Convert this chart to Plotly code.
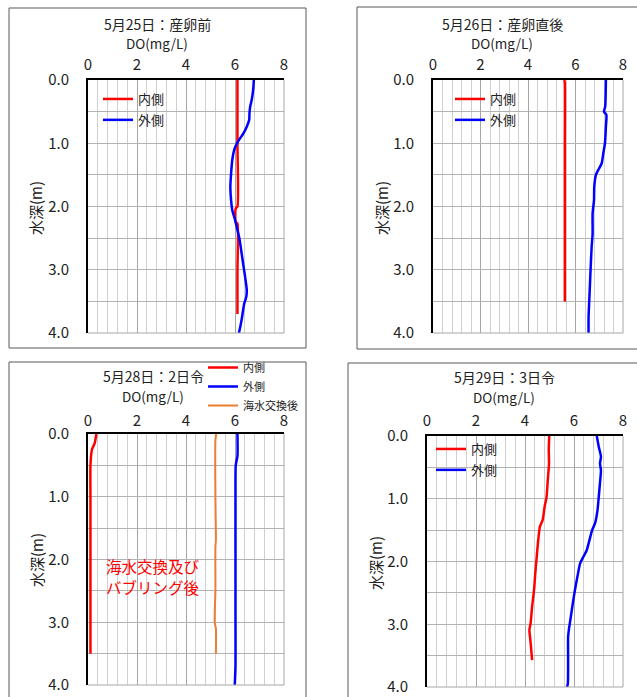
import plotly.graph_objects as go

W, H = 637, 697
FONT = "Noto Sans CJK JP"

# ---- data -----------------------------------------------------------------
# 5/25 (before spawning)
p1_in_depth = [0.0, 1.0, 2.0, 2.03, 2.25, 2.27, 3.0, 3.7]
p1_in_do = [6.1, 6.1, 6.1, 6.03, 6.03, 6.1, 6.1, 6.1]
p1_out_depth = [0.0, 0.16, 0.32, 0.42, 0.53, 0.63, 0.74, 0.84, 0.92, 1.0, 1.1, 1.26,
                1.48, 1.69, 1.9, 2.06, 2.21, 2.37, 2.53, 2.74, 2.95, 3.16, 3.32,
                3.43, 3.53, 3.64, 3.79, 3.95, 4.0]
p1_out_do = [6.77, 6.74, 6.68, 6.62, 6.59, 6.58, 6.48, 6.35, 6.21, 6.08, 5.97, 5.89,
             5.84, 5.81, 5.84, 5.89, 6.0, 6.1, 6.19, 6.27, 6.35, 6.43, 6.48,
             6.46, 6.38, 6.33, 6.27, 6.19, 6.16]

# 5/26 (right after spawning)
p2_in_depth = [0.0, 0.05, 1.0, 2.0, 3.0, 3.5]
p2_in_do = [5.53, 5.55, 5.55, 5.55, 5.55, 5.55]
p2_out_depth = [0.0, 0.42, 0.5, 0.55, 0.74, 1.0, 1.16, 1.32, 1.42, 1.5, 1.69, 1.9,
                2.11, 2.43, 2.64, 2.95, 3.22, 3.48, 3.75, 4.0]
p2_out_do = [7.28, 7.25, 7.2, 7.3, 7.28, 7.24, 7.17, 7.1, 6.96, 6.86, 6.79, 6.78,
             6.72, 6.72, 6.68, 6.64, 6.61, 6.58, 6.55, 6.55]

# 5/28 (2 days old)
p3_in_depth = [0.0, 0.15, 0.25, 0.5, 1.0, 2.0, 3.0, 3.5]
p3_in_do = [0.34, 0.27, 0.16, 0.1, 0.1, 0.1, 0.1, 0.1]
p3_out_depth = [0.0, 0.35, 0.5, 1.0, 2.0, 3.0, 3.7, 4.0]
p3_out_do = [6.1, 6.1, 6.03, 6.02, 6.02, 6.02, 6.02, 5.99]
p3_ex_depth = [0.0, 0.1, 1.0, 1.6, 1.7, 1.8, 2.5, 3.0, 3.1, 3.5]
p3_ex_do = [5.23, 5.2, 5.2, 5.22, 5.22, 5.2, 5.2, 5.17, 5.22, 5.22]

# 5/29 (3 days old)
p4_in_depth = [0.0, 0.22, 0.44, 0.7, 0.97, 1.13, 1.34, 1.44, 1.66, 1.92, 2.19,
               2.45, 2.72, 2.98, 3.09, 3.3, 3.57]
p4_in_do = [4.99, 4.97, 4.98, 4.93, 4.88, 4.8, 4.72, 4.61, 4.54, 4.48, 4.42,
            4.37, 4.29, 4.23, 4.18, 4.23, 4.29]
p4_out_depth = [0.0, 0.17, 0.33, 0.44, 0.55, 0.75, 0.97, 1.18, 1.39, 1.5, 1.66,
                1.82, 1.92, 2.03, 2.24, 2.45, 2.67, 2.88, 3.09, 3.2, 3.62, 3.94, 4.0]
p4_out_do = [6.93, 7.01, 7.1, 7.06, 7.1, 7.06, 7.01, 6.96, 6.86, 6.74, 6.63,
             6.52, 6.39, 6.25, 6.14, 6.04, 5.95, 5.87, 5.79, 5.76, 5.76, 5.75, 5.72]

titles = ["5月25日：産卵前", "5月26日：産卵直後", "5月28日：2日令", "5月29日：3日令"]
x_ticks = [0, 2, 4, 6, 8]
y_ticks = [0.0, 1.0, 2.0, 3.0, 4.0]
name_in, name_out, name_ex = "内側", "外側", "海水交換後"
note_lines = ["海水交換及び", "バブリング後"]

RED, BLUE, ORANGE = "#ff0000", "#0000ff", "#ed7d31"


def px_x(v):
    return v / W


def px_y(v):
    return 1 - v / H


# panel geometry in pixels: plot area (x0, x1, y0, y1), frame box, title centre,
# gap between the top tick labels and the axis line
panels = [
    dict(plot=(88, 284, 80, 333), box=(9, 306, 8, 348), cx=157, ty=24, dy=43, yt=(36, 208), xs=2),
    dict(plot=(433, 623, 80, 333), box=(357, 660, 7, 349), cx=502, ty=24, dy=43, yt=(382, 208), xs=2),
    dict(plot=(88, 284, 434, 685), box=(9, 306, 362, 720), cx=153, ty=376, dy=396, yt=(36, 560), xs=0),
    dict(plot=(427, 623, 436, 687), box=(348, 660, 363, 720), cx=504, ty=377, dy=397, yt=(375, 563), xs=2),
]

fig = go.Figure()

series = [
    [(p1_in_do, p1_in_depth, name_in, RED, 2.5), (p1_out_do, p1_out_depth, name_out, BLUE, 2.5)],
    [(p2_in_do, p2_in_depth, name_in, RED, 2.5), (p2_out_do, p2_out_depth, name_out, BLUE, 2.5)],
    [(p3_in_do, p3_in_depth, name_in, RED, 2.5), (p3_out_do, p3_out_depth, name_out, BLUE, 2.5),
     (p3_ex_do, p3_ex_depth, name_ex, ORANGE, 2)],
    [(p4_in_do, p4_in_depth, name_in, RED, 2.5), (p4_out_do, p4_out_depth, name_out, BLUE, 2.5)],
]

# legend anchor (px), font size, gap between entries
legend_pos = [(98, 84, 13, 1), (450, 84, 13, 1), (203, 353, 11, 0), (431, 434, 13, 1)]

shapes = []
annotations = []
layout = {}

for i, (p, ser) in enumerate(zip(panels, series)):
    k = "" if i == 0 else str(i + 1)
    lg = "legend" if i == 0 else f"legend{i + 1}"
    for j, (xs, ys, nm, col, lw) in enumerate(ser):
        fig.add_trace(go.Scatter(
            x=xs, y=ys, mode="lines", name=nm,
            line=dict(color=col, width=lw, shape="spline", smoothing=0.6),
            xaxis=f"x{k}", yaxis=f"y{k}", legend=lg,
            legendgroup=f"g{i}_{j}",
        ))
    x0, x1, y0, y1 = p["plot"]
    layout[f"xaxis{k}"] = dict(
        domain=[px_x(x0), px_x(x1)], range=[0, 8], side="top",
        anchor=f"y{k}", tickvals=x_ticks, ticks="", ticklabelstandoff=p["xs"],
        showline=True, linecolor="black", linewidth=2, automargin=False,
        showgrid=True, gridcolor="#a6a6a6", gridwidth=1,
        minor=dict(dtick=0.4, showgrid=True, gridcolor="#d0d0d0", gridwidth=1),
        tickfont=dict(family=FONT, size=15, color="#222"), zeroline=False,
        fixedrange=True,
    )
    layout[f"yaxis{k}"] = dict(
        domain=[px_y(y1), px_y(y0)], range=[4, 0], anchor=f"x{k}",
        tickvals=y_ticks, tickformat=".1f", ticks="", ticklabelstandoff=14,
        showline=True, linecolor="black", linewidth=2, automargin=False,
        showgrid=True, gridcolor="#b3b3b3", gridwidth=1,
        minor=dict(dtick=0.5, showgrid=True, gridcolor="#b3b3b3", gridwidth=1),
        tickfont=dict(family=FONT, size=15, color="#222"), zeroline=False,
        fixedrange=True,
    )
    # right and bottom edges of the plotting area
    shapes.append(dict(type="line", xref="paper", yref="paper",
                       x0=px_x(x1), x1=px_x(x1), y0=px_y(y0), y1=px_y(y1),
                       line=dict(color="#a6a6a6", width=1)))
    shapes.append(dict(type="line", xref="paper", yref="paper",
                       x0=px_x(x0), x1=px_x(x1), y0=px_y(y1), y1=px_y(y1),
                       line=dict(color="#a6a6a6", width=1)))
    # chart frame
    bx0, bx1, by0, by1 = p["box"]
    shapes.append(dict(type="rect", xref="paper", yref="paper",
                       x0=px_x(bx0), x1=px_x(bx1), y0=px_y(by1), y1=px_y(by0),
                       line=dict(color="#595959", width=1), layer="below"))
    annotations.append(dict(text=titles[i], x=px_x(p["cx"]), y=px_y(p["ty"]),
                            xref="paper", yref="paper", showarrow=False,
                            xanchor="center", yanchor="middle",
                            font=dict(family=FONT, size=14, color="#222")))
    annotations.append(dict(text="DO(mg/L)", x=px_x(p["cx"]), y=px_y(p["dy"]),
                            xref="paper", yref="paper", showarrow=False,
                            xanchor="center", yanchor="middle",
                            font=dict(family=FONT, size=13.5, color="#222")))
    annotations.append(dict(text="水深(m)", x=px_x(p["yt"][0]), y=px_y(p["yt"][1]),
                            xref="paper", yref="paper", showarrow=False, textangle=-90,
                            xanchor="center", yanchor="middle",
                            font=dict(family=FONT, size=15, color="#222")))
    lx, ly, fs, gap = legend_pos[i]
    layout[lg] = dict(x=px_x(lx), y=px_y(ly), xanchor="left", yanchor="top",
                      bgcolor="rgba(0,0,0,0)", borderwidth=0,
                      tracegroupgap=gap,
                      font=dict(family=FONT, size=fs, color="#222"))

# note inside the 5/28 panel
for line_text, ypx in zip(note_lines, [566, 587]):
    annotations.append(dict(text=line_text, x=px_x(104), y=px_y(ypx), xref="paper",
                            yref="paper", showarrow=False, xanchor="left",
                            yanchor="middle",
                            font=dict(family=FONT, size=15.5, color=RED)))

fig.update_layout(
    width=W, height=H, margin=dict(l=0, r=0, t=0, b=0, autoexpand=False),
    paper_bgcolor="white", plot_bgcolor="white",
    shapes=shapes, annotations=annotations, **layout,
)

fig.write_html("out.html")
